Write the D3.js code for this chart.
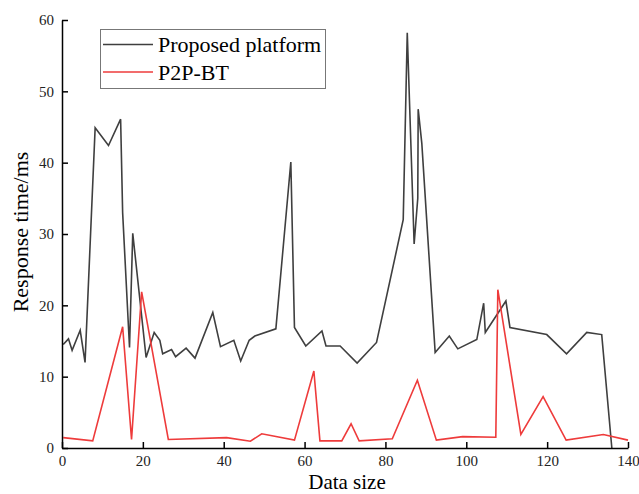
<!DOCTYPE html>
<html>
<head>
<meta charset="utf-8">
<script src="https://cdn.jsdelivr.net/npm/d3@7"></script>
<style>
  body { margin: 0; background: #fff; }
  svg { display: block; font-family: "Liberation Serif", "Times New Roman", serif; }
</style>
</head>
<body>
<div id="chart"></div>
<script>
const seriesNames = ["Proposed platform", "P2P-BT"];

const platformX = [0.3, 1.6, 2.5, 4.5, 5.7, 8.2, 11.5, 14.5, 15, 16.7, 17.5, 20.8, 22.8, 24.2, 24.9, 27.1, 28.1, 30.7, 32.9, 37.3, 39.2, 42.5, 44.2, 46.3, 47.7, 52.9, 56.6, 57.5, 60.3, 64.3, 65.3, 68.8, 73.0, 77.8, 84.4, 85.4, 87.1, 88.0, 88.1, 89.0, 92.3, 95.8, 97.9, 102.6, 104.3, 104.7, 109.8, 110.8, 119.9, 124.8, 129.8, 133.5, 136.0];
const platformY = [14.5, 15.3, 13.7, 16.5, 12.0, 44.9, 42.4, 46.1, 33.0, 14.1, 30.1, 12.7, 16.2, 15.1, 13.2, 13.8, 12.8, 14.0, 12.6, 19.0, 14.2, 15.1, 12.2, 15.1, 15.7, 16.7, 40.1, 16.9, 14.3, 16.4, 14.3, 14.3, 11.9, 14.8, 32.0, 58.2, 28.6, 35.0, 47.5, 42.7, 13.4, 15.7, 13.9, 15.2, 20.3, 16.2, 20.6, 16.9, 15.9, 13.2, 16.2, 15.9, 0];

const p2pX = [0.3, 7.6, 15.0, 17.2, 19.7, 26.3, 40.7, 46.6, 49.4, 57.5, 62.3, 63.8, 69.2, 71.5, 73.5, 81.7, 87.9, 92.6, 99.1, 107.3, 107.8, 113.5, 119.0, 124.7, 133.9, 140];
const p2pY = [1.45, 1.0, 17.0, 1.2, 21.9, 1.2, 1.45, 0.95, 2.0, 1.1, 10.8, 1.0, 1.0, 3.4, 1.0, 1.3, 9.5, 1.1, 1.6, 1.5, 22.2, 1.9, 7.2, 1.1, 1.9, 1.1];

const xTicks = [0, 20, 40, 60, 80, 100, 120, 140];
const yTicks = [0, 10, 20, 30, 40, 50, 60];

const width = 639, height = 494;
const margin = { top: 20, right: 11, bottom: 46, left: 62 };
const colors = ["#3f3f3f", "#ee3b3b"];

const svg = d3.select("#chart").append("svg")
  .attr("width", width)
  .attr("height", height);

const x = d3.scaleLinear().domain([0, 140]).range([margin.left, width - margin.right]);
const y = d3.scaleLinear().domain([0, 60]).range([height - margin.bottom, margin.top]);

const series = [
  platformX.map((v, i) => ({ x: v, y: platformY[i] })),
  p2pX.map((v, i) => ({ x: v, y: p2pY[i] }))
];

const line = d3.line().x(d => x(d.x)).y(d => y(d.y));

svg.selectAll("path.series")
  .data(series)
  .join("path")
  .attr("class", "series")
  .attr("d", line)
  .attr("fill", "none")
  .attr("stroke", (d, i) => colors[i])
  .attr("stroke-width", 1.6)
  .attr("stroke-linejoin", "miter");

// axes, ticks pointing inward
const xAxis = svg.append("g")
  .attr("transform", `translate(0,${height - margin.bottom})`)
  .call(d3.axisBottom(x).tickValues(xTicks).tickSize(-6).tickPadding(7).tickSizeOuter(0));

const yAxis = svg.append("g")
  .attr("transform", `translate(${margin.left},0)`)
  .call(d3.axisLeft(y).tickValues(yTicks).tickSize(-6).tickPadding(8).tickSizeOuter(0));

[xAxis, yAxis].forEach(g => {
  g.select(".domain").attr("stroke", "#000").attr("stroke-width", 1.5);
  g.selectAll(".tick line").attr("stroke", "#000").attr("stroke-width", 1.5);
  g.selectAll(".tick text")
    .attr("fill", "#222")
    .style("font-family", "'Liberation Serif', serif")
    .style("font-size", "15px");
});
xAxis.selectAll(".tick text").attr("dy", "0.75em");

// axis titles
svg.append("text")
  .attr("x", 347)
  .attr("y", 489)
  .attr("text-anchor", "middle")
  .style("font-size", "21px")
  .text("Data size");

svg.append("text")
  .attr("transform", "rotate(-90)")
  .attr("x", -232)
  .attr("y", 28)
  .attr("text-anchor", "middle")
  .style("font-size", "22px")
  .text("Response time/ms");

// legend
const legend = svg.append("g");
legend.append("rect")
  .attr("x", 100.5)
  .attr("y", 29.5)
  .attr("width", 225)
  .attr("height", 59)
  .attr("fill", "#fff")
  .attr("stroke", "#777")
  .attr("stroke-width", 1);

seriesNames.forEach((name, i) => {
  const ly = 44.5 + i * 27.5;
  legend.append("line")
    .attr("x1", 103).attr("x2", 153)
    .attr("y1", ly).attr("y2", ly)
    .attr("stroke", colors[i])
    .attr("stroke-width", 1.6);
  legend.append("text")
    .attr("x", 158)
    .attr("y", ly + 7.5)
    .style("font-size", "22px")
    .text(name);
});
</script>
</body>
</html>
